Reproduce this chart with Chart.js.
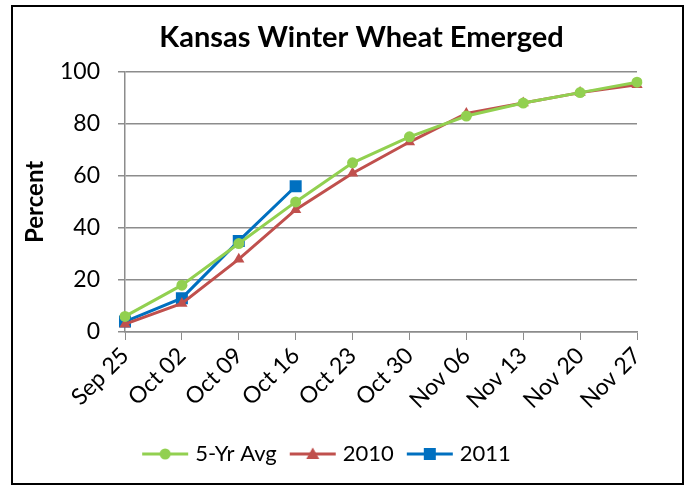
<!DOCTYPE html>
<html>
<head>
<meta charset="utf-8">
<script src="https://cdn.jsdelivr.net/npm/chart.js@4.4.1/dist/chart.umd.min.js"></script>
<style>
  html, body { margin: 0; padding: 0; background: #fff; }
  #wrap { position: relative; width: 691px; height: 485px; }
</style>
</head>
<body>
<div id="wrap"><canvas id="wheat"></canvas></div>
<script>
// weekly progress, percent emerged
const weeks = ['Sep 25', 'Oct 02', 'Oct 09', 'Oct 16', 'Oct 23', 'Oct 30', 'Nov 06', 'Nov 13', 'Nov 20', 'Nov 27'];
const avg5yr = [6, 18, 34, 50, 65, 75, 83, 88, 92, 96];
const year2010 = [3, 11, 28, 47, 61, 73, 84, 88, 92, 95];
const year2011 = [4, 13, 35, 56, null, null, null, null, null, null];
const yTicks = [0, 20, 40, 60, 80, 100];

const GREEN = '#92D050';
const RED = '#C0504D';
const BLUE = '#0070C0';
const GRID = '#8C8C8C';
const FONT = 'Lato, "Open Sans", sans-serif';

// small canvas "line + marker" used as the legend symbol
function legendSymbol(color, shape) {
    const c = document.createElement('canvas');
    c.width = 48; c.height = 16;
    const g = c.getContext('2d');
    g.strokeStyle = color;
    g.lineWidth = 3;
    g.beginPath(); g.moveTo(1, 8); g.lineTo(47, 8); g.stroke();
    g.fillStyle = color;
    g.beginPath();
    if (shape === 'circle') g.arc(24, 8, 5.5, 0, Math.PI * 2);
    if (shape === 'triangle') { g.moveTo(24, 1.5); g.lineTo(30.5, 13); g.lineTo(17.5, 13); g.closePath(); }
    if (shape === 'rect') g.rect(18, 2, 12, 12);
    g.fill();
    return c;
}
const symbols = [legendSymbol(GREEN, 'circle'), legendSymbol(RED, 'triangle'), legendSymbol(BLUE, 'rect')];

// outer black frame + nudge the title so it sits where the original has it
const frame = {
    id: 'frame',
    afterLayout(chart) {
        if (chart.titleBlock) chart.titleBlock.left = 86;
    },
    afterDraw(chart) {
        const ctx = chart.ctx;
        ctx.save();
        ctx.strokeStyle = '#000';
        ctx.lineWidth = 2;
        ctx.strokeRect(12, 6, 671, 478);
        ctx.restore();
    }
};

function series(label, data, color, shape, radius) {
    return {
        label: label,
        data: data,
        borderColor: color,
        backgroundColor: color,
        borderWidth: 3,
        pointStyle: shape,
        pointRadius: radius,
        pointHoverRadius: radius,
        pointBorderWidth: 0,
        tension: 0
    };
}

new Chart(document.getElementById('wheat'), {
    type: 'line',
    data: {
        labels: weeks,
        datasets: [
            series('5-Yr Avg', avg5yr, GREEN, 'circle', 5.5),
            series('2010', year2010, RED, 'triangle', 6.5),
            series('2011', year2011, BLUE, 'rect', 8.5)
        ]
    },
    plugins: [frame],
    options: {
        responsive: true,
        maintainAspectRatio: false,
        animation: false,
        layout: { padding: { left: 20, right: 54, top: 0, bottom: 10 } },
        scales: {
            x: {
                offset: false,
                grid: { display: true, drawOnChartArea: false, drawTicks: true, tickLength: 8, color: GRID },
                border: { display: true, color: GRID, width: 1.5 },
                ticks: {
                    autoSkip: false, minRotation: 45, maxRotation: 45, padding: 2,
                    color: '#000', font: { family: FONT, size: 23 }
                },
                afterFit(scale) { scale.height = 94; }
            },
            y: {
                min: 0, max: 100,
                afterBuildTicks(scale) { scale.ticks = yTicks.map(v => ({ value: v })); },
                grid: { color: GRID, lineWidth: 1.5, tickLength: 7 },
                border: { display: true, color: GRID, width: 1.5 },
                ticks: { padding: 18, color: '#000', font: { family: FONT, size: 23 } },
                title: {
                    display: true, text: 'Percent', color: '#000',
                    font: { family: FONT, size: 24, weight: 'bold', lineHeight: 1.2 },
                    padding: { top: 1, bottom: 0 }
                },
                afterFit(scale) { scale.width = 105; }
            }
        },
        plugins: {
            title: {
                display: true,
                text: 'Kansas Winter Wheat Emerged',
                color: '#000',
                font: { family: FONT, size: 29, weight: 'bold', lineHeight: 1.2 },
                padding: { top: 20, bottom: 17 }
            },
            legend: {
                position: 'bottom',
                labels: {
                    usePointStyle: true,
                    pointStyleWidth: 38,
                    color: '#000',
                    padding: 17,
                    font: { family: FONT, size: 22 },
                    generateLabels(chart) {
                        const items = Chart.defaults.plugins.legend.labels.generateLabels(chart);
                        items.forEach((it, i) => { it.pointStyle = symbols[i]; });
                        return items;
                    }
                }
            },
            tooltip: { enabled: false }
        }
    }
});
</script>
</body>
</html>
